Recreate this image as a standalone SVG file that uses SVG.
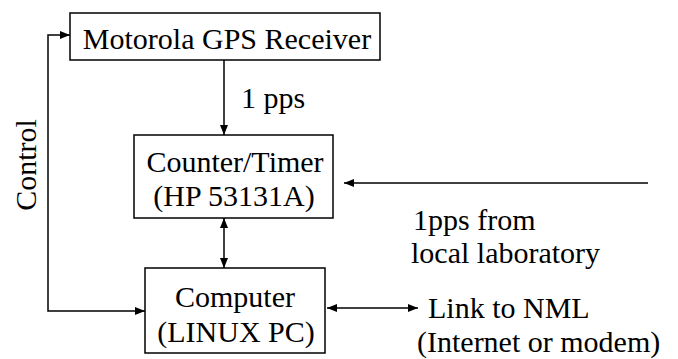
<svg xmlns="http://www.w3.org/2000/svg" width="678" height="359" viewBox="0 0 678 359">
<style>
.box{fill:#fff;stroke:#000;stroke-width:1.5}
.ln{fill:none;stroke:#000;stroke-width:1.5}
text{font-family:"Liberation Serif","Times New Roman",serif;font-size:30px;fill:#000}
.c{text-anchor:middle}
</style>
<defs>
<marker id="ah" viewBox="0 0 10 8" refX="10" refY="4" markerWidth="10" markerHeight="8" markerUnits="userSpaceOnUse" orient="auto-start-reverse">
<path d="M0,0 L10,4 L0,8 Z" fill="#000"/>
</marker>
</defs>
<rect width="678" height="359" fill="#fff"/>
<g id="connectors">
<path class="ln" d="M145,311 H48 V35 H70" marker-start="url(#ah)" marker-end="url(#ah)"/>
<path class="ln" d="M224,60 V135" marker-end="url(#ah)"/>
<path class="ln" d="M224,218 V268" marker-start="url(#ah)" marker-end="url(#ah)"/>
<path class="ln" d="M648,183 H344" marker-end="url(#ah)"/>
<path class="ln" d="M327,308 H418" marker-start="url(#ah)" marker-end="url(#ah)"/>
</g>
<g id="gps">
<rect class="box" x="70" y="13" width="310" height="47"/>
<text x="227" y="49" class="c">Motorola GPS Receiver</text>
</g>
<g id="counter">
<rect class="box" x="134" y="135" width="199" height="83"/>
<text x="235" y="172" class="c">Counter/Timer</text>
<text x="234" y="206" class="c">(HP 53131A)</text>
</g>
<g id="computer">
<rect class="box" x="145" y="268" width="180" height="85"/>
<text x="235" y="307" class="c">Computer</text>
<text x="236" y="342" class="c">(LINUX PC)</text>
</g>
<g id="labels">
<text x="241" y="108">1 pps</text>
<text x="36" y="165" class="c" transform="rotate(-90 36 165)">Control</text>
<text x="413" y="230">1pps from</text>
<text x="411" y="263">local laboratory</text>
<text x="428" y="318">Link to NML</text>
<text x="417" y="352">(Internet or modem)</text>
</g>
</svg>
